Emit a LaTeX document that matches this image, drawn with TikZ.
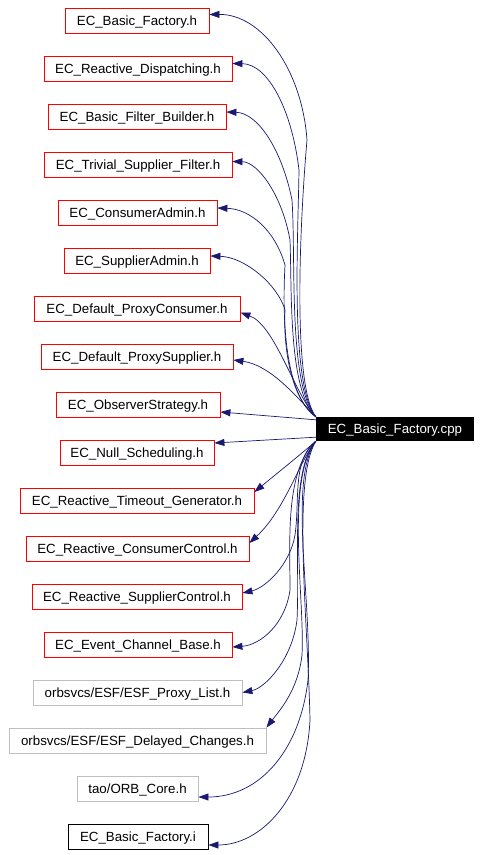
\documentclass[tikz,border=0pt]{standalone}
\usepackage{fontspec}
\setmainfont{Liberation Sans}
\usetikzlibrary{arrows.meta}
\definecolor{edgeblue}{HTML}{191970}
\definecolor{boxgray}{HTML}{BFBFBF}
\begin{document}
\begin{tikzpicture}[x=1pt,y=-1pt,
  hbox/.style={draw=red,line width=0.8pt,rectangle,inner sep=0pt,text height=9.5pt,text depth=0pt,font=\fontsize{13.3}{16}\selectfont},
  gbox/.style={hbox,draw=boxgray},
  kbox/.style={hbox,draw=black},
  mainbox/.style={rectangle,fill=black,text=white,inner sep=0pt,text height=9.5pt,text depth=0pt,font=\fontsize{13.3}{16}\selectfont},
  dep/.style={draw=edgeblue,line width=0.7pt,-{Triangle[length=10pt,width=7pt]}}]
\useasboundingbox (0,0) rectangle (482,855);
% boxes: center x, center y, width, height
\node[hbox,minimum width=144pt,minimum height=25pt] (b1) at (137,20.5) {EC\_Basic\_Factory.h};
\node[hbox,minimum width=188pt,minimum height=25pt] (b2) at (138,68.5) {EC\_Reactive\_Dispatching.h};
\node[hbox,minimum width=178pt,minimum height=25pt] (b3) at (137,116.5) {EC\_Basic\_Filter\_Builder.h};
\node[hbox,minimum width=188pt,minimum height=25pt] (b4) at (138,164.5) {EC\_Trivial\_Supplier\_Filter.h};
\node[hbox,minimum width=159pt,minimum height=25pt] (b5) at (137.5,212.5) {EC\_ConsumerAdmin.h};
\node[hbox,minimum width=146pt,minimum height=25pt] (b6) at (137,260.5) {EC\_SupplierAdmin.h};
\node[hbox,minimum width=206pt,minimum height=25pt] (b7) at (137,308.5) {EC\_Default\_ProxyConsumer.h};
\node[hbox,minimum width=192pt,minimum height=25pt] (b8) at (137,356.5) {EC\_Default\_ProxySupplier.h};
\node[hbox,minimum width=164pt,minimum height=25pt] (b9) at (138,404.5) {EC\_ObserverStrategy.h};
\node[hbox,minimum width=154pt,minimum height=25pt] (b10) at (137,452.5) {EC\_Null\_Scheduling.h};
\node[hbox,minimum width=234pt,minimum height=25pt] (b11) at (137,500.5) {EC\_Reactive\_Timeout\_Generator.h};
\node[hbox,minimum width=223pt,minimum height=25pt] (b12) at (137.5,548.5) {EC\_Reactive\_ConsumerControl.h};
\node[hbox,minimum width=210pt,minimum height=25pt] (b13) at (137,596.5) {EC\_Reactive\_SupplierControl.h};
\node[hbox,minimum width=188pt,minimum height=25pt] (b14) at (138,644.5) {EC\_Event\_Channel\_Base.h};
\node[gbox,minimum width=209pt,minimum height=25pt] (b15) at (137.5,692.5) {orbsvcs/ESF/ESF\_Proxy\_List.h};
\node[gbox,minimum width=257pt,minimum height=25pt] (b16) at (137.5,740.5) {orbsvcs/ESF/ESF\_Delayed\_Changes.h};
\node[gbox,minimum width=121pt,minimum height=25pt] (b17) at (137.5,788.5) {tao/ORB\_Core.h};
\node[kbox,minimum width=140pt,minimum height=25pt] (b18) at (138,836.5) {EC\_Basic\_Factory.i};
\node[mainbox,minimum width=158pt,minimum height=24pt] (main) at (395,429) {EC\_Basic\_Factory.cpp};
% upper edges
\draw[dep] (main.north west) .. controls (292,385) and (300,220) .. (307,140) .. controls (302,70) and (262,14) .. ([yshift=6pt]b1.east);
\draw[dep] (main.north west) .. controls (290,385) and (298,240) .. (299,170) .. controls (292,110) and (268,64) .. ([yshift=5pt]b2.east);
\draw[dep] (main.north west) .. controls (288,385) and (296,260) .. (292,200) .. controls (282,150) and (258,113) .. ([yshift=4.5pt]b3.east);
\draw[dep] (main.north west) .. controls (288,390) and (292,290) .. (290,240) .. controls (282,195) and (258,162) .. ([yshift=3pt]b4.east);
\draw[dep] (main.north west) .. controls (285,395) and (282,320) .. (285,265) .. controls (275,230) and (250,209) .. ([yshift=4.5pt]b5.east);
\draw[dep] (main.north west) .. controls (292,400) and (283,350) .. (285,310) .. controls (278,285) and (245,257) .. ([yshift=4.5pt]b6.east);
\draw[dep] (main.north west) .. controls (295,395) and (275,325) .. ([yshift=-4pt]b7.east);
\draw[dep] (main.north west) .. controls (295,395) and (270,365) .. ([yshift=-3.5pt]b8.east);
\draw[dep] ([yshift=-3pt]main.north west) -- ([yshift=-7.5pt]b9.east);
\draw[dep] ([yshift=4pt]main.south west) -- ([yshift=9.5pt]b10.east);
% lower edges
\draw[dep] (main.south west) .. controls (300,455) and (275,475) .. ([yshift=8.5pt]b11.east);
\draw[dep] (main.south west) .. controls (300,460) and (285,510) .. ([yshift=5.5pt]b12.east);
\draw[dep] (main.south west) .. controls (292,460) and (300,500) .. (295,535) .. controls (290,565) and (265,588) .. ([yshift=3.5pt]b13.east);
\draw[dep] (main.south west) .. controls (285,470) and (290,540) .. (290,590) .. controls (285,625) and (260,645) .. ([yshift=-2.5pt]b14.east);
\draw[dep] (main.south west) .. controls (290,470) and (300,560) .. (297,620) .. controls (292,660) and (265,688) .. (b15.east);
\draw[dep] (main.south west) .. controls (285,480) and (305,600) .. (302,655) .. controls (298,690) and (280,710) .. (b16.north east);
\draw[dep] (main.south west) .. controls (288,480) and (312,600) .. (308,680) .. controls (300,750) and (260,797) .. ([yshift=-8.5pt]b17.east);
\draw[dep] (main.south west) .. controls (292,480) and (308,620) .. (310,720) .. controls (306,800) and (260,845) .. ([yshift=-8.5pt]b18.east);
\end{tikzpicture}
\end{document}
